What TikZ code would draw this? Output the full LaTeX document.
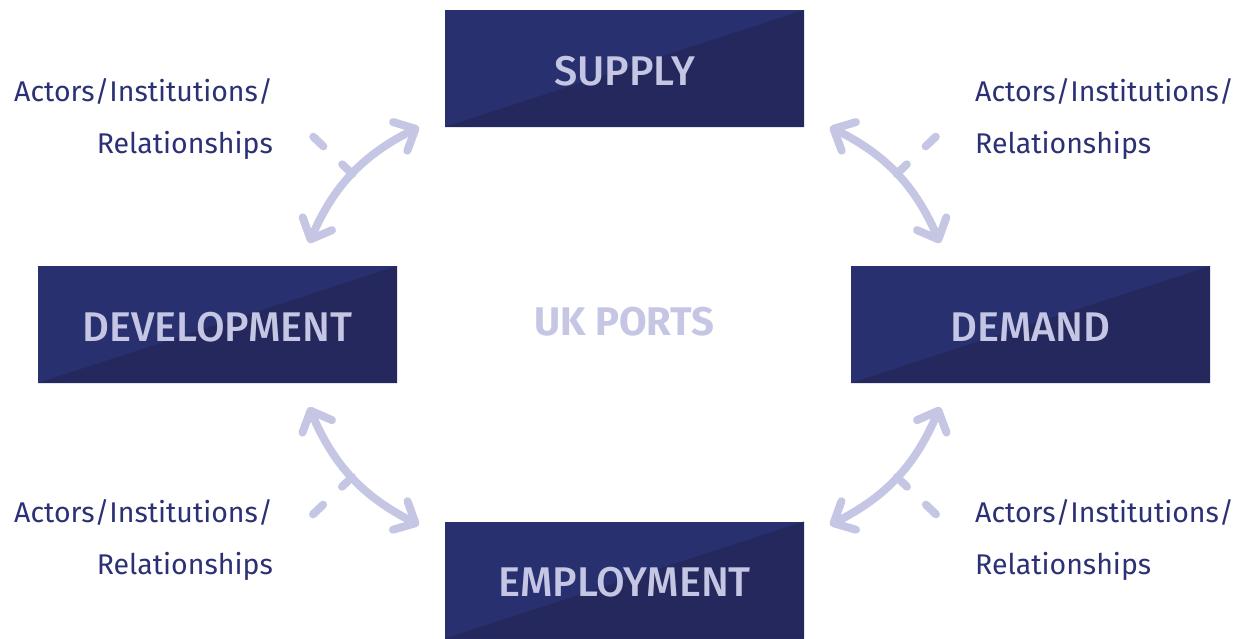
\documentclass[tikz,border=0pt]{standalone}
\usepackage{fontspec}
\setmainfont{Fira Sans}
\newfontfamily\boxfont{Fira Sans Medium}
\usetikzlibrary{arrows.meta}
\definecolor{navy}{HTML}{2B3174}
\definecolor{boxlight}{HTML}{293070}
\definecolor{boxdark}{HTML}{24285C}
\definecolor{lilac}{HTML}{C5C6E4}
\begin{document}
\begin{tikzpicture} [
  x=1pt, y=-1pt,
  box/.style={minimum width=359pt, minimum height=117pt, inner sep=0pt,
    text height=33pt, text depth=0pt,
    fill=boxlight, text=lilac, font=\fontsize{41.5}{44}\selectfont\boxfont,
    path picture={\fill[boxdark] (path picture bounding box.south west)
      -- (path picture bounding box.north east)
      -- (path picture bounding box.south east) -- cycle;}},
  hub/.style={text=lilac, font=\fontsize{40}{44}\selectfont\bfseries},
  note/.style={text=navy, font=\fontsize{28.5}{52}\selectfont, inner sep=0pt},
  link/.style={draw=lilac, line width=8pt,
    {Straight Barb[length=17pt, width=32pt, round]}-{Straight Barb[length=17pt, width=32pt, round]}},
  tick/.style={draw=lilac, line width=8pt, line cap=round, dash pattern=on 14pt off 26pt}]
\useasboundingbox (0,0) rectangle (1236,638);
\node[box] (sup) at (624.5,68.5) {SUPPLY};
\node[box] (dev) at (217.5,324.5) {DEVELOPMENT};
\node[box] (dem) at (1030.5,324.5) {DEMAND};
\node[box] (emp) at (624.5,580) {EMPLOYMENT};
\node[hub] (uk) at (624.5,322) {UK PORTS};
\node[note, anchor=east, align=right] (tl) at (273,119) {Actors/Institutions/\\Relationships};
\node[note, anchor=west, align=left] (tr) at (975,119) {Actors/Institutions/\\Relationships};
\node[note, anchor=east, align=right] (bl) at (273,540) {Actors/Institutions/\\Relationships};
\node[note, anchor=west, align=left] (br) at (975,540) {Actors/Institutions/\\Relationships};
\coordinate (a1) at (419,127);  \coordinate (a2) at (309,243);
\coordinate (b1) at (830,127);  \coordinate (b2) at (940,243);
\coordinate (c1) at (309,407);  \coordinate (c2) at (419,525);
\coordinate (d1) at (940,407);  \coordinate (d2) at (830,525);
\draw[link] (a1) to[bend right=20] coordinate[pos=.5] (m1) (a2);
\draw[link] (b1) to[bend left=20] coordinate[pos=.5] (m2) (b2);
\draw[link] (c1) to[bend right=20] coordinate[pos=.5] (m3) (c2);
\draw[link] (d1) to[bend left=20] coordinate[pos=.5] (m4) (d2);
\draw[tick] (m1) -- ++(-42,-40);
\draw[tick] (m2) -- ++(42,-40);
\draw[tick] (m3) -- ++(-42,40);
\draw[tick] (m4) -- ++(42,40);
\end{tikzpicture}
\end{document}
